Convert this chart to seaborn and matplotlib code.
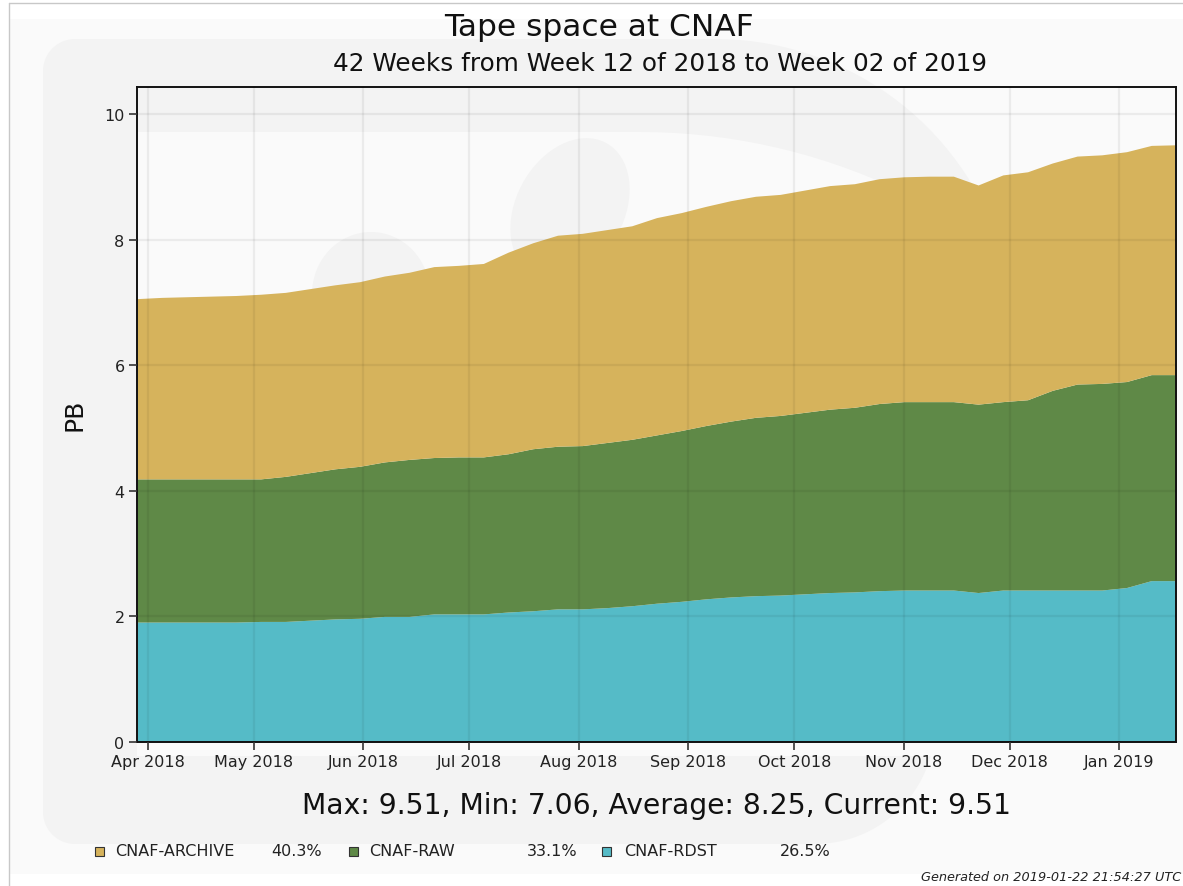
import numpy as np
import pandas as pd
import matplotlib
matplotlib.use('Agg')
import matplotlib.pyplot as plt
import matplotlib.dates as mdates
from matplotlib.patches import Rectangle, Polygon, Ellipse
import seaborn as sns

# weekly samples, week 12 of 2018 .. week 02 of 2019
weeks = pd.date_range('2018-03-29', periods=43, freq='7D')

# PB per site
cnaf_rdst = [1.91, 1.91, 1.91, 1.91, 1.91, 1.92, 1.92, 1.94, 1.96, 1.97,
             2.00, 2.00, 2.04, 2.04, 2.04, 2.07, 2.09, 2.12, 2.12, 2.14,
             2.17, 2.21, 2.24, 2.28, 2.31, 2.33, 2.34, 2.36, 2.38, 2.39,
             2.41, 2.42, 2.42, 2.42, 2.38, 2.42, 2.42, 2.42, 2.42, 2.42,
             2.46, 2.57, 2.57]
cnaf_raw = [2.28, 2.28, 2.28, 2.28, 2.28, 2.27, 2.31, 2.35, 2.39, 2.42,
            2.46, 2.50, 2.49, 2.50, 2.50, 2.52, 2.58, 2.59, 2.60, 2.63,
            2.65, 2.68, 2.72, 2.76, 2.80, 2.84, 2.86, 2.89, 2.92, 2.94,
            2.98, 3.00, 3.00, 3.00, 3.00, 3.00, 3.03, 3.18, 3.28, 3.29,
            3.28, 3.28, 3.28]
cnaf_archive = [2.87, 2.89, 2.90, 2.91, 2.92, 2.94, 2.93, 2.93, 2.93, 2.94,
                2.96, 2.98, 3.04, 3.05, 3.08, 3.21, 3.28, 3.36, 3.38, 3.39,
                3.40, 3.46, 3.47, 3.49, 3.51, 3.52, 3.52, 3.54, 3.56, 3.56,
                3.58, 3.58, 3.59, 3.59, 3.49, 3.61, 3.63, 3.62, 3.63, 3.64,
                3.66, 3.65, 3.66]

labels = ['CNAF-ARCHIVE', 'CNAF-RAW', 'CNAF-RDST']
shares = ['40.3%', '33.1%', '26.5%']
colors = sns.color_palette(['#d6b35c', '#5f8947', '#55bbc7'])
y_ticks = [0, 2, 4, 6, 8, 10]

title = 'Tape space at CNAF'
subtitle = '42 Weeks from Week 12 of 2018 to Week 02 of 2019'
stats = 'Max: 9.51, Min: 7.06, Average: 8.25, Current: 9.51'
generated = 'Generated on 2019-01-22 21:54:27 UTC'

sns.set_style('ticks')
plt.rcParams['font.family'] = ['DejaVu Sans']

W, H = 1183, 887
fig = plt.figure(figsize=(W / 100, H / 100), dpi=100, facecolor='white')


def fp(x, y):
    return (x / W, 1 - y / H)


def arc(cx, cy, r, a0, a1, n=40):
    a = np.radians(np.linspace(a0, a1, n))
    return [fp(cx + r * np.cos(t), cy - r * np.sin(t)) for t in a]


# page background and border
fig.add_artist(Rectangle(fp(10, 875), (W - 10) / W, 855 / H, transform=fig.transFigure,
                         facecolor='#fafafa', edgecolor='none', zorder=-30))
fig.add_artist(plt.Line2D([9 / W, 9 / W], [0, fp(0, 4)[1]], transform=fig.transFigure,
                          color='#c8c8c8', lw=1, zorder=-29))
fig.add_artist(plt.Line2D([9 / W, 1], [fp(0, 4)[1]] * 2, transform=fig.transFigure,
                          color='#c8c8c8', lw=1, zorder=-29))

# watermark logo (faint)
outer = arc(715, 340, 300, 90, 0) + arc(815, 725, 120, 0, -90) + \
    arc(75, 813, 32, -90, -180) + arc(75, 72, 32, 180, 90)
fig.add_artist(Polygon(outer, closed=True, transform=fig.transFigure,
                       facecolor='#f3f3f3', edgecolor='none', zorder=-20))
inner = [fp(137, 757), fp(137, 133)] + arc(640, 738, 605, 90, 26.2) + \
    [fp(1183, 471), fp(1183, 757)]
fig.add_artist(Polygon(inner, closed=True, transform=fig.transFigure,
                       facecolor='#fafafa', edgecolor='none', zorder=-19))
for cx, cy, w, h, ang in [(371, 295, 118, 124, 0), (570, 210, 112, 145, -15)]:
    fig.add_artist(Ellipse(fp(cx, cy), w / W, h / H, angle=ang, transform=fig.transFigure,
                           facecolor='#f3f3f3', edgecolor='none', zorder=-18))

ax = fig.add_axes([137 / W, 1 - 743 / H, (1176 - 137) / W, (743 - 88) / H])
ax.set_facecolor('none')

ax.stackplot(weeks, cnaf_rdst, cnaf_raw, cnaf_archive,
             colors=[colors[2], colors[1], colors[0]], linewidth=0)

ax.set_xlim(weeks[0], weeks[-1])
ax.set_ylim(0, 10.43)
ax.set_yticks(y_ticks)
ax.xaxis.set_major_locator(mdates.MonthLocator())
ax.xaxis.set_major_formatter(mdates.DateFormatter('%b %Y'))

ax.set_axisbelow(False)
ax.grid(True, color='black', alpha=0.06, linewidth=1.6)
for s in ax.spines.values():
    s.set_visible(True)
    s.set_color('#111111')
    s.set_linewidth(1.4)
ax.tick_params(axis='both', direction='out', length=6, width=1.2, color='#333333',
               labelsize=11.5, labelcolor='#222222', pad=3)
ax.tick_params(top=False, right=False)

fig.text(599 / W, 1 - 27 / H, title, ha='center', va='center', fontsize=22.5, color='#111111')
fig.text(660 / W, 1 - 64 / H, subtitle, ha='center', va='center', fontsize=17.8, color='#111111')
fig.text(75 / W, 1 - 415 / H, 'PB', ha='center', va='center', rotation=90,
         fontsize=18, color='#111111')
fig.text(656 / W, 1 - 806 / H, stats, ha='center', va='center', fontsize=20.3, color='#111111')

# legend row with shares
sq_x = [95, 349, 602]
lab_x = [115, 369, 624]
pct_x = [271, 527, 780]
for i in range(3):
    fig.add_artist(Rectangle(fp(sq_x[i], 857), 9 / W, 9 / H, transform=fig.transFigure,
                             facecolor=colors[i], edgecolor='#333333', lw=0.8))
    fig.text(lab_x[i] / W, 1 - 852 / H, labels[i], ha='left', va='center',
             fontsize=11.5, color='#222222')
    fig.text(pct_x[i] / W, 1 - 852 / H, shares[i], ha='left', va='center',
             fontsize=11.5, color='#222222')

fig.text(1181 / W, 1 - 878 / H, generated, ha='right', va='center', fontsize=9.3,
         style='italic', color='#222222')

fig.savefig('out.png', dpi=100, facecolor=fig.get_facecolor())
